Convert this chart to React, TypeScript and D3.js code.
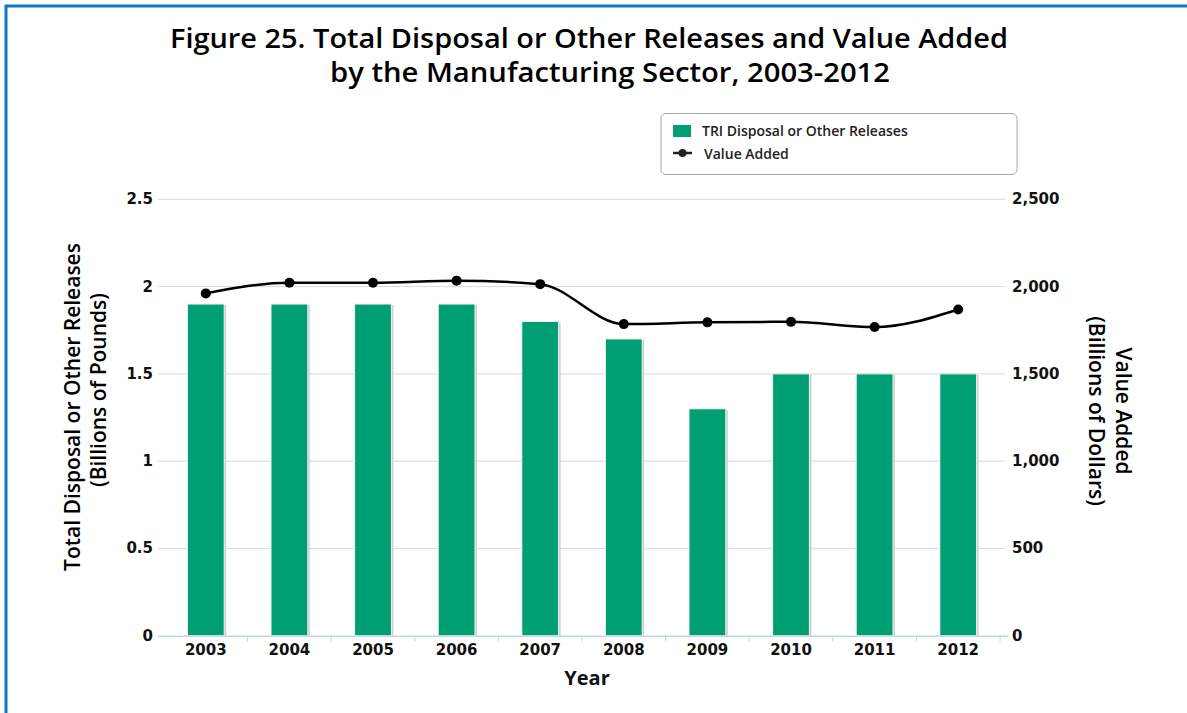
import React from 'react';
import * as d3 from 'd3';

const years = ['2003', '2004', '2005', '2006', '2007', '2008', '2009', '2010', '2011', '2012'];
// TRI disposal or other releases, billions of pounds
const releases = [1.9, 1.9, 1.9, 1.9, 1.8, 1.7, 1.3, 1.5, 1.5, 1.5];
// value added, billions of dollars
const valueAdded = [1961, 2022, 2022, 2034, 2014, 1785, 1795, 1798, 1768, 1869];

const leftTicks = [0, 0.5, 1, 1.5, 2, 2.5];
const rightTicks = [0, 500, 1000, 1500, 2000, 2500];

const WIDTH = 1187,
    HEIGHT = 713;

const PLOT = {
    LEFT: 164,
    RIGHT: 1000,
    TOP: 199.3,
    BOTTOM: 635.7
}

const GREEN = '#009f73';
const TEXT_FONT = '"Open Sans", sans-serif';
const TICK_FONT = '"DejaVu Sans", Verdana, sans-serif';

const App = () => {
    const x = d3.scaleBand<string>().domain(years).range([PLOT.LEFT, PLOT.RIGHT]).paddingInner(0.56).paddingOuter(0.28);
    const xStep = x.step();
    const yLeft = d3.scaleLinear().domain([0, 2.5]).range([PLOT.BOTTOM, PLOT.TOP]);
    const yRight = d3.scaleLinear().domain([0, 2500]).range([PLOT.BOTTOM, PLOT.TOP]);

    const cx = (yr: string) => (x(yr) as number) + x.bandwidth() / 2;

    const line = d3.line<number>()
        .x((_, i) => cx(years[i]))
        .y(d => yRight(d))
        .curve(d3.curveMonotoneX);

    // category separators on the x axis (band edges)
    const edgeTicks = years.map(yr => cx(yr) + xStep / 2);

    return (
        <svg width={WIDTH} height={HEIGHT} style={{ position: 'absolute', left: 0, top: 0, background: '#fff' }}>
            {/* frame */}
            <path d={`M6,${HEIGHT + 5}V6H${WIDTH + 5}`} fill='none' stroke='#0b78bf' strokeWidth={3} />

            {/* title */}
            <text x={589} y={48} textAnchor='middle' fontFamily={TEXT_FONT} fontSize={27} fontWeight={600} fill='#000'
                textLength={838} lengthAdjust='spacingAndGlyphs'>
                Figure 25. Total Disposal or Other Releases and Value Added
            </text>
            <text x={610} y={82} textAnchor='middle' fontFamily={TEXT_FONT} fontSize={27} fontWeight={600} fill='#000'
                textLength={560} lengthAdjust='spacingAndGlyphs'>
                by the Manufacturing Sector, 2003-2012
            </text>

            {/* legend */}
            <rect x={661} y={113.5} width={356} height={61} rx={5} fill='#fff' stroke='#a8a8a8' strokeWidth={1} />
            <rect x={673} y={125} width={18} height={12} fill={GREEN} />
            <text x={702} y={136} fontFamily={TEXT_FONT} fontSize={14} fontWeight={600} fill='#222'>TRI Disposal or Other Releases</text>
            <line x1={673} x2={692} y1={153} y2={153} stroke='#222' strokeWidth={2.5} />
            <circle cx={682.5} cy={153} r={4} fill='#222' />
            <text x={704} y={159} fontFamily={TEXT_FONT} fontSize={14} fontWeight={600} fill='#222'>Value Added</text>

            {/* grid */}
            <g>
                {leftTicks.filter(t => t > 0).map(t => (
                    <line key={`grid-${t}`} x1={158} x2={1005} y1={yLeft(t)} y2={yLeft(t)} stroke='#d8d8de' strokeWidth={1} />
                ))}
            </g>

            {/* bars */}
            <g>
                {releases.map((v, i) => {
                    const bx = x(years[i]) as number,
                        by = yLeft(v),
                        bh = PLOT.BOTTOM - by;
                    return (
                        <g key={`bar-${i}`}>
                            <rect x={bx + 2} y={by + 1} width={x.bandwidth()} height={bh - 1} fill='#cfcfcf' />
                            <rect x={bx} y={by} width={x.bandwidth()} height={bh} fill={GREEN} stroke='#f2f2f2' strokeWidth={1} />
                        </g>
                    );
                })}
            </g>

            {/* x axis */}
            <line x1={158} x2={1008} y1={PLOT.BOTTOM + 0.5} y2={PLOT.BOTTOM + 0.5} stroke='#c4d4e4' strokeWidth={1.5} />
            {edgeTicks.map((t, i) => (
                <line key={`xt-${i}`} x1={t} x2={t} y1={PLOT.BOTTOM} y2={PLOT.BOTTOM + 6} stroke='#c4d4e4' strokeWidth={1} />
            ))}
            {years.map(yr => (
                <text key={`xl-${yr}`} x={cx(yr)} y={655} textAnchor='middle' fontFamily={TICK_FONT} fontSize={15} fontWeight='bold' fill='#111'>{yr}</text>
            ))}
            <text x={587} y={685} textAnchor='middle' fontFamily={TEXT_FONT} fontSize={20} fontWeight={700} fill='#111'>Year</text>

            {/* left axis */}
            {leftTicks.map(t => (
                <text key={`yl-${t}`} x={153} y={yLeft(t) + 5} textAnchor='end' fontFamily={TICK_FONT} fontSize={15} fontWeight='bold' fill='#111'>{d3.format('')(t)}</text>
            ))}
            <text transform='translate(80,407) rotate(-90)' textAnchor='middle' fontFamily={TEXT_FONT} fontSize={21} fontWeight={600} fill='#000'>
                Total Disposal or Other Releases
            </text>
            <text transform='translate(106,390) rotate(-90)' textAnchor='middle' fontFamily={TEXT_FONT} fontSize={21} fontWeight={600} fill='#000'>
                (Billions of Pounds)
            </text>

            {/* right axis */}
            {rightTicks.map(t => (
                <text key={`yr-${t}`} x={1012} y={yRight(t) + 5} textAnchor='start' fontFamily={TICK_FONT} fontSize={15} fontWeight='bold' fill='#111'>{d3.format(',')(t)}</text>
            ))}
            <text transform='translate(1116,411) rotate(90)' textAnchor='middle' fontFamily={TEXT_FONT} fontSize={21} fontWeight={600} fill='#000'>
                Value Added
            </text>
            <text transform='translate(1089,411) rotate(90)' textAnchor='middle' fontFamily={TEXT_FONT} fontSize={21} fontWeight={600} fill='#000'>
                (Billions of Dollars)
            </text>

            {/* value added line */}
            <path d={line(valueAdded) || ''} fill='none' stroke='#000' strokeWidth={2.5} />
            {valueAdded.map((v, i) => (
                <circle key={`pt-${i}`} cx={cx(years[i])} cy={yRight(v)} r={5} fill='#000' />
            ))}
        </svg>
    );
}

export default App;
